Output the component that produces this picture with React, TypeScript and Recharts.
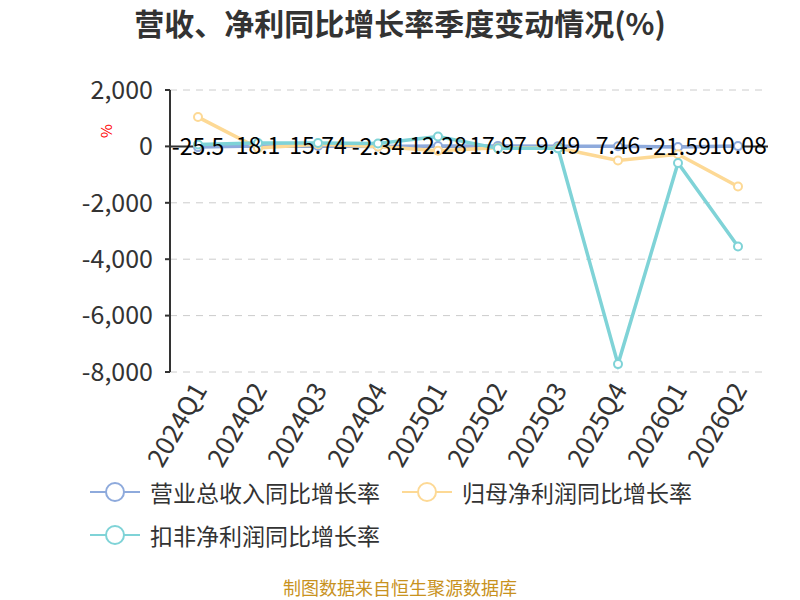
import React from 'react';
import { LineChart, Line, XAxis, YAxis, CartesianGrid, ReferenceLine, LabelList } from 'recharts';

const quarters = ['2024Q1', '2024Q2', '2024Q3', '2024Q4', '2025Q1', '2025Q2', '2025Q3', '2025Q4', '2026Q1', '2026Q2'];
const revenueGrowth = [-25.5, 18.1, 15.74, -2.34, 12.28, 17.97, 9.49, 7.46, -21.59, 10.08];
const netProfitGrowth = [1040, -60, 80, 0, -150, -50, -60, -500, -280, -1420];
const deductedProfitGrowth = [70, 120, 120, 100, 350, -70, -70, -7720, -590, -3550];
const yTicks = [-8000, -6000, -4000, -2000, 0, 2000];

const seriesNames = ['营业总收入同比增长率', '归母净利润同比增长率', '扣非净利润同比增长率'];
const seriesColors = ['#8eaadc', '#fdd995', '#7fd3d7'];

const data = quarters.map((q, i) => ({
  q,
  rev: revenueGrowth[i],
  net: netProfitGrowth[i],
  ded: deductedProfitGrowth[i],
}));

const FONT = '"Noto Sans CJK SC", "Noto Sans", sans-serif';

const fmt = (v: number) => v.toLocaleString('en-US');

const XTick = (props: any) => {
  const { x, y, payload } = props;
  return (
    <g transform={`translate(${x},${y + 4})`}>
      <text
        textAnchor="end"
        dominantBaseline="central"
        transform="rotate(-60)"
        fontSize={26}
        fill="#333"
        fontFamily={FONT}
      >
        {payload.value}
      </text>
    </g>
  );
};

const LegendBlock = () => (
  <div
    style={{
      position: 'absolute',
      top: 470,
      left: 90,
      display: 'flex',
      flexWrap: 'wrap',
      width: 660,
      fontFamily: FONT,
    }}
  >
    {seriesNames.map((n, i) => (
      <div key={n} style={{ display: 'flex', alignItems: 'center', height: 43, marginRight: 22 }}>
        <svg width={50} height={22} style={{ marginRight: 10 }}>
          <line x1={0} y1={11} x2={50} y2={11} stroke={seriesColors[i]} strokeWidth={2} />
          <circle cx={25} cy={11} r={9} fill="#fff" stroke={seriesColors[i]} strokeWidth={2} />
        </svg>
        <span style={{ fontSize: 23, color: '#333' }}>{n}</span>
      </div>
    ))}
  </div>
);

const PercentLabel = (props: any) => {
  const { viewBox } = props;
  const x = viewBox.x + 15;
  const y = viewBox.y + 41;
  return (
    <text
      x={x}
      y={y}
      transform={`rotate(-90, ${x}, ${y})`}
      textAnchor="middle"
      dominantBaseline="central"
      fontSize={15}
      fill="#ff0000"
      fontFamily={FONT}
    >
      %
    </text>
  );
};

export default function App() {
  return (
    <div style={{ position: 'absolute', left: 0, top: 0, width: 800, height: 600, background: '#fff', fontFamily: FONT, overflow: 'hidden' }}>
      <div
        style={{
          position: 'absolute',
          top: 3,
          left: 0,
          width: 800,
          textAlign: 'center',
          fontSize: 30,
          fontWeight: 'bold',
          color: '#333',
          lineHeight: '38px',
        }}
      >
        营收、净利同比增长率季度变动情况(%)
      </div>
      <LineChart
        width={800}
        height={600}
        data={data}
        margin={{ top: 90, right: 32, bottom: 128, left: 90 }}
        style={{ position: 'absolute', left: 0, top: 0 }}
      >
        <CartesianGrid vertical={false} stroke="#cccccc" strokeDasharray="7 6" />
        <XAxis
          dataKey="q"
          axisLine={false}
          tickLine={false}
          height={100}
          interval={0}
          padding={{ left: 28, right: 30 }}
          tick={<XTick />}
        />
        <YAxis
          width={80}
          domain={[-8000, 2000]}
          ticks={yTicks}
          tickFormatter={fmt}
          axisLine={{ stroke: '#333', strokeWidth: 2 }}
          tickLine={{ stroke: '#333', strokeWidth: 2 }}
          tickSize={5}
          tickMargin={12}
          tick={{ fontSize: 25, fill: '#333', fontFamily: FONT }}
          label={<PercentLabel />}
        />
        <ReferenceLine y={0} stroke="#333" strokeWidth={2} />
        <Line
          dataKey="rev"
          name={seriesNames[0]}
          stroke={seriesColors[0]}
          strokeWidth={3.5}
          dot={{ r: 4, fill: '#fff', stroke: seriesColors[0], strokeWidth: 2 }}
          isAnimationActive={false}
        />
        <Line
          dataKey="net"
          name={seriesNames[1]}
          stroke={seriesColors[1]}
          strokeWidth={3.5}
          dot={{ r: 4, fill: '#fff', stroke: seriesColors[1], strokeWidth: 2 }}
          isAnimationActive={false}
        />
        <Line
          dataKey="ded"
          name={seriesNames[2]}
          stroke={seriesColors[2]}
          strokeWidth={3.5}
          dot={{ r: 4, fill: '#fff', stroke: seriesColors[2], strokeWidth: 2 }}
          isAnimationActive={false}
        />
        <Line
          dataKey="rev"
          stroke="none"
          dot={false}
          activeDot={false}
          legendType="none"
          isAnimationActive={false}
        >
          <LabelList
            dataKey="rev"
            position="center"
            fontSize={23}
            fill="#000"
            fontFamily={FONT}
          />
        </Line>
      </LineChart>
      <LegendBlock />
      <div
        style={{
          position: 'absolute',
          top: 576,
          left: 0,
          width: 800,
          textAlign: 'center',
          fontSize: 18,
          color: '#c8921e',
          lineHeight: '22px',
        }}
      >
        制图数据来自恒生聚源数据库
      </div>
    </div>
  );
}
